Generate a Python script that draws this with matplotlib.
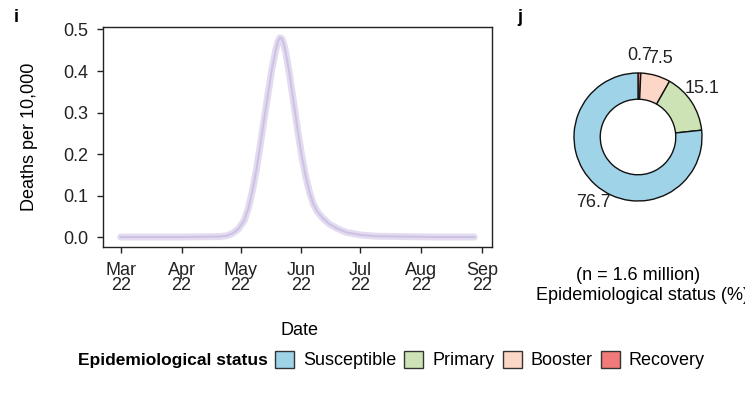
import datetime as dt
import matplotlib
matplotlib.use("Agg")
import matplotlib.pyplot as plt
import matplotlib.dates as mdates
from matplotlib.patches import Patch

plt.rcParams['font.family'] = ['Liberation Sans', 'DejaVu Sans']
plt.rcParams['font.size'] = 13

# deaths per 10,000 : day offset from 1 Mar 2022 -> value
days = [0, 30, 50, 54, 57, 60, 63, 65, 67, 69, 71, 73, 75, 77, 79, 80, 81, 82, 83, 84,
        86, 88, 90, 92, 94, 96, 98, 100, 103, 106, 110, 115, 122, 130, 145, 160, 180]
deaths = [0.0, 0.0, 0.001, 0.003, 0.009, 0.02, 0.041, 0.07, 0.11, 0.16, 0.22, 0.283,
          0.345, 0.405, 0.452, 0.47, 0.48, 0.478, 0.465, 0.445, 0.39, 0.325, 0.26,
          0.20, 0.15, 0.11, 0.08, 0.062, 0.045, 0.032, 0.021, 0.011, 0.005, 0.002,
          0.001, 0.0, 0.0]
start = dt.date(2022, 3, 1)
dates = [start + dt.timedelta(days=d) for d in days]

# donut: epidemiological status (%)
status = ["Recovery", "Booster", "Primary", "Susceptible"]
shares = [0.7, 7.5, 15.1, 76.7]
colors = {"Susceptible": "#9fd3e8", "Primary": "#cde3b6",
          "Booster": "#fcd6c6", "Recovery": "#f07b78"}
legend_order = ["Susceptible", "Primary", "Booster", "Recovery"]

fig = plt.figure(figsize=(7.45, 3.96), dpi=100)

# ---- panel i
ax = fig.add_axes([103/745, 1-247/396, 389/745, 220/396])
ax.plot(dates, deaths, color="#e3dcf1", lw=5, solid_capstyle="round")
ax.plot(dates, deaths, color="#cdc2e3", lw=1.5)
ax.set_xlim(dt.date(2022, 2, 20), dt.date(2022, 9, 6))
ax.set_ylim(-0.024, 0.506)
ax.set_yticks([0.0, 0.1, 0.2, 0.3, 0.4, 0.5])
ax.yaxis.set_major_formatter(matplotlib.ticker.FormatStrFormatter('%.1f'))
ax.xaxis.set_major_locator(mdates.MonthLocator())
ax.xaxis.set_major_formatter(mdates.DateFormatter('%b\n%y'))
for lab in ax.get_xticklabels():
    lab.set_linespacing(0.9)
ax.tick_params(direction='out', length=4.5, width=1, pad=6, colors='#222222',
               labelcolor='#222222', labelsize=13)
for s in ax.spines.values():
    s.set_linewidth(1)
    s.set_color('#222222')
ax.set_ylabel("Deaths per 10,000", fontsize=13)
ax.yaxis.set_label_coords(-0.167, 0.5)
ax.set_xlabel("Date", fontsize=13)
ax.xaxis.set_label_coords(0.506, -0.34)

# ---- panel j
ax2 = fig.add_axes([(638-96)/745, (396-137-96)/396, 192/745, 192/396])
wedges, texts = ax2.pie(shares, labels=[f"{v:.1f}" for v in shares],
                        colors=[colors[s] for s in status], startangle=90,
                        counterclock=False, labeldistance=1.28,
                        wedgeprops=dict(width=0.41, edgecolor='#111111', linewidth=1),
                        textprops=dict(fontsize=13, color='#222222'))
for t in texts:
    t.set_ha('center')
    t.set_va('center')
# labels sit a little further round the ring than the wedge middles
texts[2].set_position((1.0, 0.76))
texts[3].set_position((-0.7, -1.03))
ax2.set_xlim(-1.5, 1.5)
ax2.set_ylim(-1.5, 1.5)
ax2.set_aspect('equal')
ax2.axis('off')

fig.text(638/745, 1-276/396, "(n = 1.6 million)", ha='center', va='center', fontsize=13)
fig.text(536/745, 1-296/396, "Epidemiological status (%)", ha='left', va='center',
         fontsize=13)

fig.text(14/745, 1-18/396, "i", fontweight='bold', fontsize=13, ha='left', va='center')
fig.text(517/745, 1-18/396, "j", fontweight='bold', fontsize=13, ha='left', va='center')

# ---- legend
fig.text(268/745, 1-360/396, "Epidemiological status", fontweight='bold',
         fontsize=12.5, ha='right', va='center')
handles = [Patch(facecolor=colors[s], edgecolor='#333333', linewidth=1) for s in legend_order]
fig.legend(handles, legend_order, ncol=4, loc='center left',
           bbox_to_anchor=(275/745, 1-360/396), frameon=False, fontsize=13,
           handlelength=1.05, handleheight=1.1, handletextpad=0.5,
           columnspacing=0.45, borderpad=0, borderaxespad=0)

fig.savefig("out.png", dpi=100)
